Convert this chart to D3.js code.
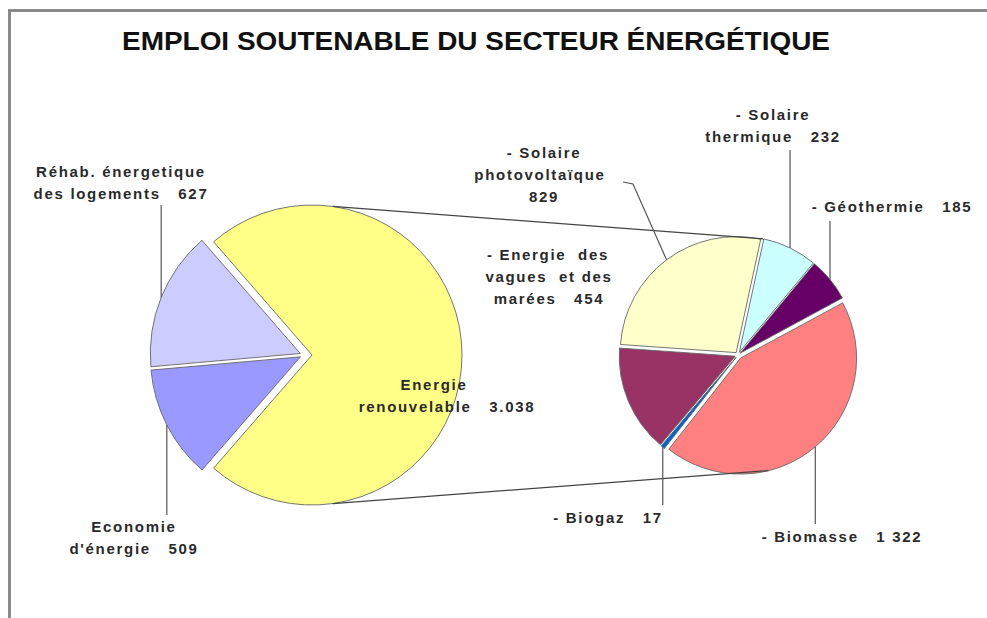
<!DOCTYPE html>
<html>
<head>
<meta charset="utf-8">
<script src="https://cdn.jsdelivr.net/npm/d3@7"></script>
<style>
  body { margin: 0; background: #fff; }
  text { font-family: "Liberation Sans", Arial, sans-serif; font-weight: bold; fill: #2a2a2a; white-space: pre; }
</style>
</head>
<body>
<script>
// data
var title = "EMPLOI SOUTENABLE DU SECTEUR ÉNERGÉTIQUE";

var mainCats = ["Energie renouvelable", "Economie d'énergie", "Réhab. énergetique des logements"];
var mainValues = [3038, 509, 627];
var mainColors = ["#ffff88", "#9999ff", "#ccccff"];
var mainLabels = [
    ["Energie", "renouvelable   3.038"],
    ["Economie", "d'énergie   509"],
    ["Réhab. énergetique", "des logements   627"]
];

var subCats = ["Solaire photovoltaïque", "Solaire thermique", "Géothermie", "Biomasse", "Biogaz", "Energie des vagues et des marées"];
var subValues = [829, 232, 185, 1322, 17, 454];
var subColors = ["#ffffcc", "#ccffff", "#660066", "#ff8080", "#0066cc", "#993366"];
var subLabels = [
    ["- Solaire", "photovoltaïque", "829"],
    ["- Solaire", "thermique   232"],
    ["- Géothermie   185"],
    ["- Biomasse   1 322"],
    ["- Biogaz   17"],
    ["- Energie  des", "vagues  et des", "marées   454"]
];

var deg = Math.PI / 180;

var svg = d3.select("body").append("svg")
    .attr("width", 987)
    .attr("height", 618);

svg.append("rect").attr("width", 987).attr("height", 618).attr("fill", "#fff");

// frame
svg.append("path")
    .attr("d", "M9.5,618 V10.5 H987")
    .attr("fill", "none")
    .attr("stroke", "#8a8a8a")
    .attr("stroke-width", 3);

svg.append("text")
    .attr("x", 122)
    .attr("y", 50)
    .attr("textLength", 708)
    .attr("lengthAdjust", "spacingAndGlyphs")
    .attr("font-size", 26)
    .style("fill", "#111")
    .text(title);

// point on a slice edge, for leader lines
function edgePoint(c, r, a) {
    return [c[0] + r * Math.sin(a), c[1] - r * Math.cos(a)];
}

function drawPie(values, colors, center, r, start, explode) {
    var arcs = d3.pie().sort(null)
        .startAngle(start * deg)
        .endAngle(start * deg + 2 * Math.PI)(values);
    var arc = d3.arc().innerRadius(0).outerRadius(r);
    arcs.forEach(function (d, i) {
        var mid = (d.startAngle + d.endAngle) / 2;
        d.mid = mid;
        d.c = [center[0] + explode[i] * Math.sin(mid), center[1] - explode[i] * Math.cos(mid)];
    });
    svg.append("g").selectAll("path")
        .data(arcs)
        .enter()
        .append("path")
        .attr("transform", function (d) { return "translate(" + d.c[0] + "," + d.c[1] + ")"; })
        .attr("d", arc)
        .attr("fill", function (d, i) { return colors[i]; })
        .attr("stroke", "#666")
        .attr("stroke-width", 0.9);
    return arcs;
}

var R1 = 150, R2 = 116;
var mainArcs = drawPie(mainValues, mainColors, [304, 355], R1, -41, [8, 4, 4]);
var subArcs = drawPie(subValues, subColors, [738, 355], R2, -86, [3, 3, 3, 4, 3, 3]);

// connector lines between the two pies
var yel = mainArcs[0];
var lines = [
    [edgePoint(yel.c, R1, 8 * deg), edgePoint(subArcs[1].c, R2, subArcs[1].startAngle)],
    [edgePoint(yel.c, R1, 172 * deg), edgePoint(subArcs[3].c, R2, 166 * deg)]
];
svg.append("g").selectAll("line")
    .data(lines)
    .enter()
    .append("line")
    .attr("x1", function (d) { return d[0][0]; })
    .attr("y1", function (d) { return d[0][1]; })
    .attr("x2", function (d) { return d[1][0]; })
    .attr("y2", function (d) { return d[1][1]; })
    .attr("stroke", "#444")
    .attr("stroke-width", 1.2);

// label layout: centre x, first baseline, leader end y (null = no leader)
var mainLayout = [
    { x: [434, 447], y: 390, lead: null },
    { x: [134, 134], y: 532, lead: 515 },
    { x: [121, 121], y: 177, lead: 205 }
];
var subLayout = [
    { x: [544, 540, 544], y: 158, lead: "pv" },
    { x: [773, 773], y: 120, lead: 150 },
    { x: [892], y: 212, lead: 221 },
    { x: [842], y: 542, lead: 524 },
    { x: [608], y: 523, lead: 505 },
    { x: [548, 549, 549], y: 260, lead: null }
];

function drawLabels(arcs, labels, layout, r) {
    arcs.forEach(function (d, i) {
        var L = layout[i];
        var g = svg.append("g");
        labels[i].forEach(function (t, j) {
            g.append("text")
                .attr("x", L.x[j])
                .attr("y", L.y + j * 22)
                .attr("text-anchor", "middle")
                .attr("font-size", 15)
                .style("letter-spacing", "1.7px")
                .text(t);
        });
        if (L.lead === null) return;
        var p = edgePoint(d.c, r, d.mid);
        var pts;
        if (L.lead === "pv") {
            pts = [[623, 182], [633, 184], p];
        } else {
            pts = [[p[0], L.lead], p];
        }
        svg.append("path")
            .attr("d", d3.line()(pts))
            .attr("fill", "none")
            .attr("stroke", "#555")
            .attr("stroke-width", 1.2);
    });
}

drawLabels(mainArcs, mainLabels, mainLayout, R1);
drawLabels(subArcs, subLabels, subLayout, R2);
</script>
</body>
</html>
